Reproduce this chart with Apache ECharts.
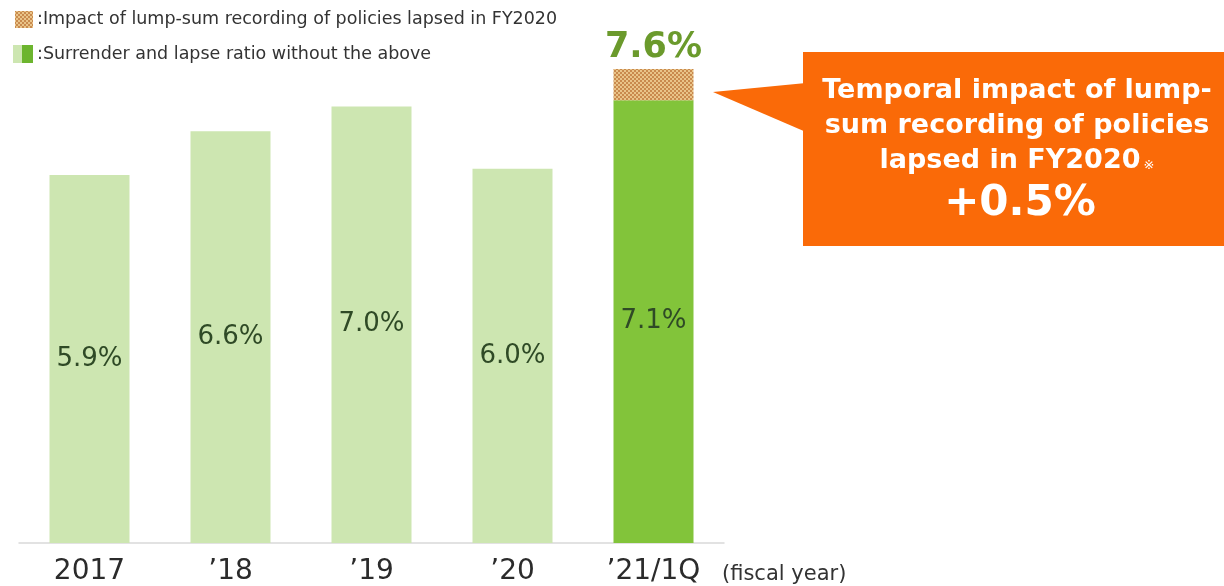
<!DOCTYPE html>
<html>
<head>
<meta charset="utf-8">
<script src="https://cdn.jsdelivr.net/npm/echarts@6/dist/echarts.min.js"></script>
<style>
  html, body { margin: 0; padding: 0; background: #fff; }
  #main { width: 1224px; height: 586px; }
</style>
</head>
<body>
<div id="main"></div>
<script>
var years = ['2017', '\u201918', '\u201919', '\u201920', '\u201921/1Q'];
var baseRatio = [5.9, 6.6, 7.0, 6.0, 7.1];
var lumpImpact = [null, null, null, null, 0.5];
var lightGreen = '#cde6b1';
var brightGreen = '#82c43a';

var chartDom = document.getElementById('main');
var myChart = echarts.init(chartDom, null, { renderer: 'canvas' });

// small dotted pattern for the hatched block
var pat = document.createElement('canvas');
pat.width = 4; pat.height = 4;
var pc = pat.getContext('2d');
pc.fillStyle = '#e9c489';
pc.fillRect(0, 0, 4, 4);
pc.fillStyle = '#c98a4e';
pc.fillRect(0, 0, 2, 2);
pc.fillRect(2, 2, 2, 2);

var font = '"DejaVu Sans", Verdana, sans-serif';

var option = {
  animation: false,
  grid: { left: 19, width: 705, top: 44, height: 500 },
  xAxis: {
    type: 'category',
    data: years,
    axisTick: { show: false },
    axisLine: { lineStyle: { color: '#d9d9d9', width: 1.5 } },
    axisLabel: { color: '#2b2b2b', fontSize: 28, fontFamily: font, margin: 15 }
  },
  yAxis: { type: 'value', min: 0, max: 8, show: false, splitLine: { show: false } },
  series: [
    {
      type: 'bar',
      stack: 'total',
      barWidth: 80,
      data: baseRatio.map(function (v, i) {
        return { value: v, itemStyle: { color: i === baseRatio.length - 1 ? brightGreen : lightGreen } };
      }),
      label: {
        show: true,
        position: 'inside',
        formatter: function (p) { return p.value.toFixed(1) + '%'; },
        color: '#2f4a26',
        fontSize: 26,
        fontFamily: font
      }
    },
    {
      type: 'bar',
      stack: 'total',
      barWidth: 80,
      data: lumpImpact,
      itemStyle: { color: { image: pat, repeat: 'repeat' } },
      label: {
        show: true,
        position: 'top',
        distance: 4,
        formatter: function (p) {
          return (baseRatio[p.dataIndex] + p.value).toFixed(1) + '%';
        },
        color: '#6b9a2c',
        fontSize: 35,
        fontWeight: 'bold',
        fontFamily: font
      }
    }
  ],
  graphic: [
    // legend
    { type: 'rect', shape: { x: 15, y: 11, width: 18, height: 17 }, style: { fill: { image: pat, repeat: 'repeat' } } },
    { type: 'text', x: 37, y: 19, style: { text: ':Impact of lump-sum recording of policies lapsed in FY2020', fill: '#333', font: '17.5px ' + font, textVerticalAlign: 'middle' } },
    { type: 'rect', shape: { x: 13, y: 45, width: 9, height: 18 }, style: { fill: lightGreen } },
    { type: 'rect', shape: { x: 22, y: 45, width: 11, height: 18 }, style: { fill: '#6cb52e' } },
    { type: 'text', x: 37, y: 54, style: { text: ':Surrender and lapse ratio without the above', fill: '#333', font: '17.5px ' + font, textVerticalAlign: 'middle' } },
    // callout
    { type: 'polygon', shape: { points: [[713, 92], [806, 83], [806, 132]] }, style: { fill: '#fa6a08' } },
    { type: 'rect', shape: { x: 803, y: 52, width: 421, height: 194 }, style: { fill: '#fa6a08' } },
    { type: 'text', x: 1017, y: 91, style: { text: 'Temporal impact of lump-', fill: '#fff', font: 'bold 27px ' + font, textAlign: 'center', textVerticalAlign: 'middle' } },
    { type: 'text', x: 1017, y: 126, style: { text: 'sum recording of policies', fill: '#fff', font: 'bold 27px ' + font, textAlign: 'center', textVerticalAlign: 'middle' } },
    { type: 'text', x: 1010, y: 161, style: { text: 'lapsed in FY2020', fill: '#fff', font: 'bold 27px ' + font, textAlign: 'center', textVerticalAlign: 'middle' } },
    { type: 'text', x: 1149, y: 166, style: { text: '\u203B', fill: '#fff', font: '13px ' + font, textAlign: 'center', textVerticalAlign: 'middle' } },
    { type: 'text', x: 1020, y: 204, style: { text: '+0.5%', fill: '#fff', font: 'bold 42px ' + font, textAlign: 'center', textVerticalAlign: 'middle' } },
    // axis unit
    { type: 'text', x: 722, y: 575, style: { text: '(fiscal year)', fill: '#333', font: '21px ' + font, textVerticalAlign: 'middle' } }
  ]
};

option && myChart.setOption(option);
</script>
</body>
</html>
